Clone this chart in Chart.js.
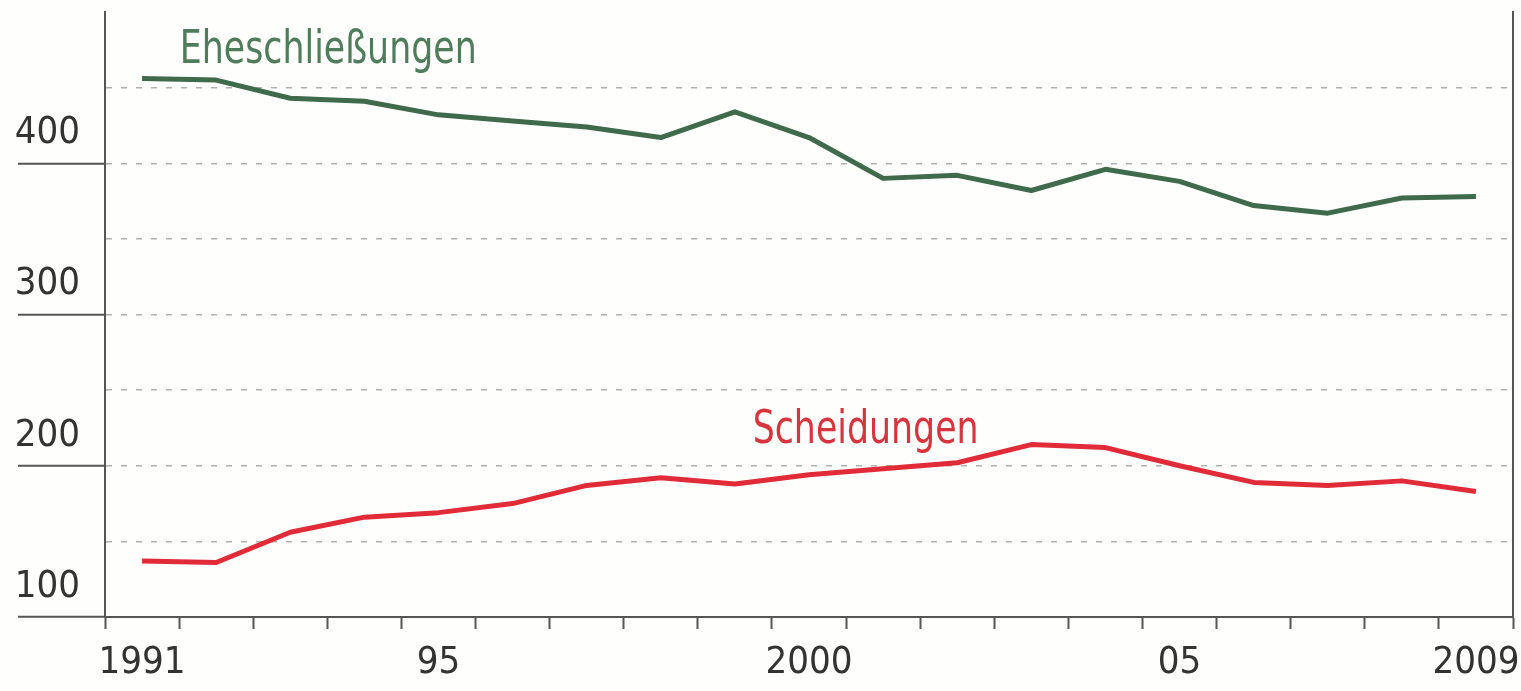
<!DOCTYPE html>
<html>
<head>
<meta charset="utf-8">
<script src="https://cdn.jsdelivr.net/npm/chart.js@4.4.1/dist/chart.umd.min.js"></script>
<style>
    body { margin: 0; background: #fefefc; }
    #wrap { width: 1521px; height: 691px; }
</style>
</head>
<body>
<div id="wrap"><canvas id="lineChart"></canvas></div>
<script>
// Jahre (Kategorien) und Beschriftungen der x-Achse
const years = ['1991', '1992', '1993', '1994', '1995', '1996', '1997', '1998', '1999', '2000',
               '2001', '2002', '2003', '2004', '2005', '2006', '2007', '2008', '2009'];
const yearLabels = ['1991', '', '', '', '95', '', '', '', '', '2000',
                    '', '', '', '', '05', '', '', '', '2009'];

// Werte in Tausend
const marriages = [456, 455, 443, 441, 432, 428, 424, 417, 434, 417,
                   390, 392, 382, 396, 388, 372, 367, 377, 378];
const divorces = [137, 136, 156, 166, 169, 175, 187, 192, 188, 194,
                  198, 202, 214, 212, 200, 189, 187, 190, 183];

const yTickLabels = [100, 200, 300, 400];

const FONT = '"Liberation Sans Narrow", "DejaVu Sans Condensed", "Roboto", sans-serif';
const GREEN = '#3f6a4b';
const RED = '#e12b38';

// Serienbeschriftungen direkt im Diagramm (schmal gestaucht wie im Original)
const seriesLabels = {
    id: 'seriesLabels',
    afterDatasetsDraw(chart) {
        const ctx = chart.ctx;
        const x = chart.scales.x;
        const y = chart.scales.y;
        const squeeze = 0.84;
        const items = [
            { text: 'Eheschließungen', color: '#4f7c5a', at: [0.51, 466] },
            { text: 'Scheidungen', color: '#d9333d', at: [8.24, 215] }
        ];
        ctx.save();
        ctx.font = '46px ' + FONT;
        ctx.textBaseline = 'alphabetic';
        ctx.textAlign = 'left';
        items.forEach(it => {
            const px = x.getPixelForValue(it.at[0]);
            const py = y.getPixelForValue(it.at[1]);
            ctx.save();
            ctx.translate(px, py);
            ctx.scale(squeeze, 1);
            ctx.fillStyle = it.color;
            ctx.fillText(it.text, 0, 0);
            ctx.restore();
        });
        ctx.restore();
    }
};

const chart = new Chart(document.getElementById('lineChart'), {
    type: 'line',
    data: {
        labels: years,
        datasets: [
            {
                label: 'Eheschließungen',
                data: marriages,
                borderColor: GREEN,
                borderWidth: 5,
                pointRadius: 0,
                tension: 0,
                borderJoinStyle: 'round'
            },
            {
                label: 'Scheidungen',
                data: divorces,
                borderColor: RED,
                borderWidth: 5,
                pointRadius: 0,
                tension: 0,
                borderJoinStyle: 'round'
            }
        ]
    },
    options: {
        responsive: true,
        maintainAspectRatio: false,
        animation: false,
        layout: { padding: { top: 12, left: 0, right: 0, bottom: 0 } },
        plugins: {
            legend: { display: false },
            tooltip: { enabled: false }
        },
        scales: {
            x: {
                offset: true,
                grid: {
                    offset: true,
                    drawOnChartArea: false,
                    tickLength: 12,
                    tickWidth: 2,
                    tickColor: '#555'
                },
                border: { color: '#555', width: 2 },
                ticks: {
                    autoSkip: false,
                    maxRotation: 0,
                    padding: 11,
                    color: '#333',
                    font: { family: FONT, size: 38 },
                    callback: (val, i) => yearLabels[i]
                },
                afterFit(scale) {
                    scale.height = 74;
                    scale.paddingLeft = 0;
                    scale.paddingRight = 0;
                }
            },
            y: {
                min: 100,
                max: 500,
                ticks: {
                    stepSize: 50,
                    padding: -62,
                    labelOffset: -30,
                    color: '#333',
                    font: { family: FONT, size: 38 },
                    callback: (val) => yTickLabels.includes(val) ? String(val) : ''
                },
                grid: {
                    color: (c) => (c.tick && c.tick.value > 100 && c.tick.value < 500) ? '#b0b0b0' : 'rgba(0,0,0,0)',
                    lineWidth: 1.5,
                    tickLength: 87,
                    tickWidth: 2,
                    tickBorderDash: [],
                    tickColor: (c) => (c.tick && yTickLabels.includes(c.tick.value)) ? '#555' : 'rgba(0,0,0,0)'
                },
                border: { color: '#555', width: 2, dash: [6, 9] },
                afterFit(scale) {
                    scale.width = 105;
                    scale.paddingTop = 0;
                    scale.paddingBottom = 0;
                }
            },
            y2: {
                position: 'right',
                min: 100,
                max: 500,
                grid: { display: false },
                ticks: { display: false },
                border: { color: '#555', width: 2 },
                afterFit(scale) {
                    scale.width = 8;
                    scale.paddingTop = 0;
                    scale.paddingBottom = 0;
                }
            }
        }
    },
    plugins: [seriesLabels]
});
</script>
</body>
</html>
